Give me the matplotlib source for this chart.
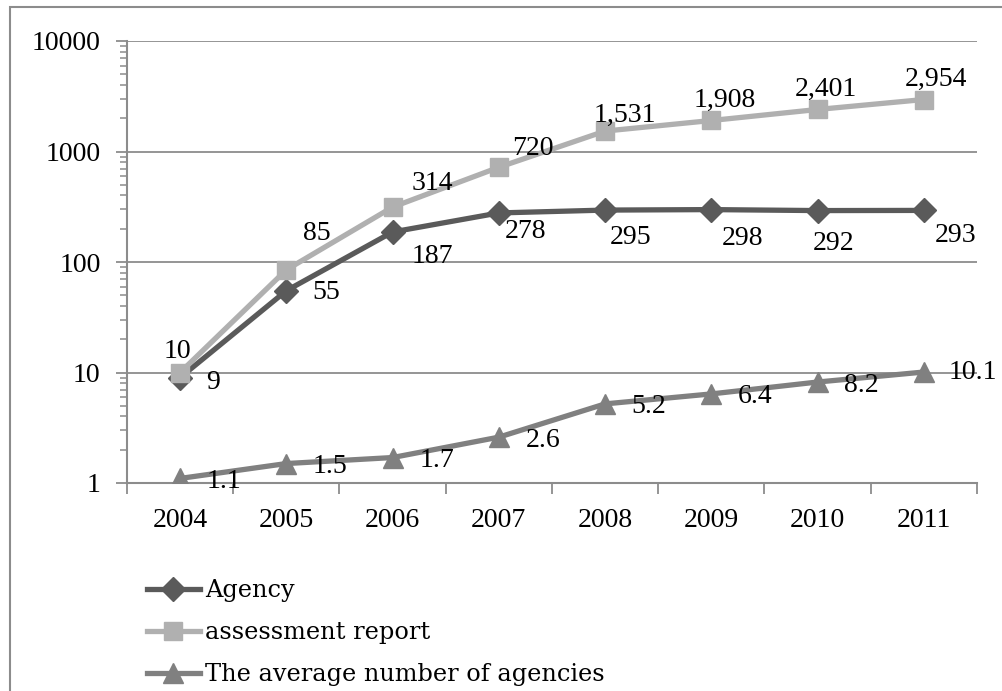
import matplotlib
matplotlib.use("Agg")
import matplotlib.pyplot as plt
from matplotlib.lines import Line2D
from matplotlib.patches import Rectangle
import numpy as np

years = ["2004", "2005", "2006", "2007", "2008", "2009", "2010", "2011"]
agency = [9, 55, 187, 278, 295, 298, 292, 293]
reports = [10, 85, 314, 720, 1531, 1908, 2401, 2954]
average = [1.1, 1.5, 1.7, 2.6, 5.2, 6.4, 8.2, 10.1]
series_names = ["Agency", "assessment report", "The average number of agencies"]

# label offsets in pixels (dx, dy with dy positive downward)
agency_off = [(33, 5), (40, 2), (40, 25), (27, 19), (25, 27), (31, 29), (16, 33), (32, 25)]
reports_off = [(-3, -21), (30, -36), (40, -24), (34, -19), (20, -16), (13, -20), (8, -20), (12, -20)]
average_off = [(44, 3)] * 7 + [(49, 0)]

plt.rcParams['font.family'] = ['Liberation Serif', 'DejaVu Serif']
FS = 20

W, H = 1003, 691
fig = plt.figure(figsize=(W / 100, H / 100), dpi=100)
fig.patch.set_facecolor("white")

# outer frame (left and top visible)
fig.add_artist(Rectangle((10 / W, -0.1), 1.2, (H - 7) / H + 0.1, transform=fig.transFigure,
                         fill=False, edgecolor="#8c8c8c", linewidth=1.5))

ax = fig.add_axes([127 / W, (H - 483) / H, 850 / W, 442 / H])
x = np.arange(len(years))

c_ag = "#5a5a5a"
c_rep = "#b0b0b0"
c_avg = "#808080"

ax.plot(x, agency, color=c_ag, lw=3.8, marker="D", ms=12, zorder=3)
ax.plot(x, reports, color=c_rep, lw=3.8, marker="s", ms=13, zorder=4)
ax.plot(x, average, color=c_avg, lw=3.8, marker="^", ms=15, zorder=5)

for i in range(len(years)):
    ax.annotate(f"{agency[i]:,}", (x[i], agency[i]), xytext=(agency_off[i][0], -agency_off[i][1]),
                textcoords="offset pixels", ha="center", va="center", fontsize=FS, zorder=6)
    ax.annotate(f"{reports[i]:,}", (x[i], reports[i]), xytext=(reports_off[i][0], -reports_off[i][1]),
                textcoords="offset pixels", ha="center", va="center", fontsize=FS, zorder=6)
    ax.annotate(f"{average[i]:.1f}", (x[i], average[i]), xytext=(average_off[i][0], -average_off[i][1]),
                textcoords="offset pixels", ha="center", va="center", fontsize=FS, zorder=6)

ax.set_yscale("log")
ax.set_ylim(1, 10000)
ax.set_xlim(-0.5, len(years) - 0.5)
ax.set_yticks([1, 10, 100, 1000, 10000])
ax.set_yticklabels(["1", "10", "100", "1000", "10000"])
ax.yaxis.set_minor_locator(matplotlib.ticker.LogLocator(base=10, subs=np.arange(2, 10)))
ax.yaxis.set_minor_formatter(matplotlib.ticker.NullFormatter())

ax.set_xticks(x)
ax.set_xticklabels(years)
ax.set_xticks(np.arange(-0.5, len(years)), minor=True)

gc = "#8c8c8c"
ax.grid(axis="y", which="major", color=gc, lw=1.3, zorder=0)
for s in ["top", "right"]:
    ax.spines[s].set_visible(False)
for s in ["left", "bottom"]:
    ax.spines[s].set_color(gc)
    ax.spines[s].set_linewidth(1.5)

ax.tick_params(axis="y", which="major", length=8, width=1.3, color=gc, labelsize=FS, pad=11)
ax.tick_params(axis="y", which="minor", length=5, width=1.1, color=gc)
ax.tick_params(axis="x", which="major", length=0, labelsize=FS, pad=18)
ax.tick_params(axis="x", which="minor", length=8, width=1.3, color=gc)

handles = [
    Line2D([], [], color=c_ag, lw=3.8, marker="D", ms=12),
    Line2D([], [], color=c_rep, lw=3.8, marker="s", ms=13),
    Line2D([], [], color=c_avg, lw=3.8, marker="^", ms=15),
]
leg = fig.legend(handles, series_names, loc="upper left",
                 bbox_to_anchor=(147 / W, (H - 579) / H), frameon=False,
                 prop={"family": ["DejaVu Serif"], "size": 17.3},
                 handlelength=2.2, handletextpad=0.2, labelspacing=0.8, borderpad=0, borderaxespad=0)

fig.savefig("out.png", dpi=100)
